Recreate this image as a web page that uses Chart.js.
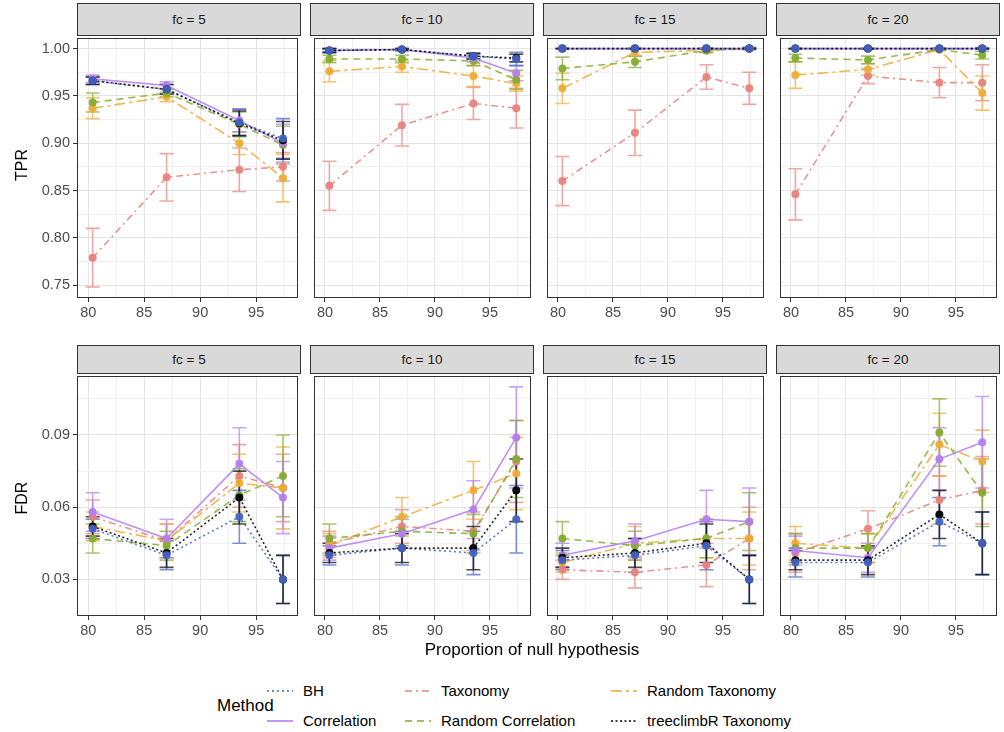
<!DOCTYPE html>
<html lang="en">
<head>
<meta charset="UTF-8" />
<title>TPR / FDR by fc</title>
<script src="https://cdn.jsdelivr.net/npm/chart.js"></script>
<style>
    * { box-sizing: border-box; margin: 0; padding: 0; }
    body {
        width: 1004px; height: 732px;
        background: #fff;
        position: relative;
        overflow: hidden;
        font-family: 'Liberation Sans', Arial, sans-serif;
    }
    .strip {
        position: absolute;
        background: #d9d9d9;
        border: 1px solid #333;
        color: #1a1a1a;
        font-size: 13.5px;
        text-align: center;
    }
    canvas.panel { position: absolute; }
    .ytitle {
        position: absolute;
        width: 60px; height: 20px; line-height: 20px;
        font-size: 16px; text-align: center; color: #000;
        transform: rotate(-90deg);
    }
    #xtitle {
        position: absolute; left: 0; width: 1064px; top: 640px;
        text-align: center; font-size: 17px; color: #000;
    }
    #legend .lab { position: absolute; font-size: 15px; color: #000; line-height: 18px; white-space: nowrap; }
    #legend svg { position: absolute; }
    #legtitle { position: absolute; left: 217px; top: 696px; font-size: 17px; line-height: 20px; }
</style>
</head>
<body>

<div id="fig"></div>
<div class="ytitle" style="left:-8px; top:155px;">TPR</div>
<div class="ytitle" style="left:-8px; top:488px;">FDR</div>
<div id="xtitle">Proportion of null hypothesis</div>
<div id="legend"><div id="legtitle">Method</div></div>

<script>
// x positions (proportion of null hypothesis, %)
const xVals = [80.4, 87.0, 93.5, 97.4];
const fcLevels = [5, 10, 15, 20];
const methods = ['BH', 'Correlation', 'Taxonomy', 'Random Correlation', 'Random Taxonomy', 'treeclimbR Taxonomy'];

// tick labels
const xTicks = [80, 85, 90, 95];
const tprTicks = [0.75, 0.80, 0.85, 0.90, 0.95, 1.00];
const fdrTicks = [0.03, 0.06, 0.09];

// TPR: one row per fc (5, 10, 15, 20), one value per x
const tprBH = [[0.966, 0.957, 0.922, 0.905], [0.998, 0.999, 0.992, 0.989], [1.000, 1.000, 1.000, 1.000], [1.000, 1.000, 1.000, 1.000]];
const tprBHErr = [[0.004, 0.005, 0.014, 0.021], [0.002, 0.001, 0.003, 0.007], [0, 0, 0, 0.001], [0, 0, 0, 0.001]];
const tprCorr = [[0.968, 0.961, 0.924, 0.900], [0.998, 0.999, 0.990, 0.974], [1.000, 1.000, 1.000, 1.000], [1.000, 1.000, 1.000, 1.000]];
const tprCorrErr = [[0.004, 0.004, 0.012, 0.020], [0.002, 0.001, 0.004, 0.008], [0, 0, 0, 0], [0, 0, 0, 0]];
const tprTax = [[0.779, 0.864, 0.872, 0.875], [0.855, 0.919, 0.942, 0.937], [0.860, 0.911, 0.970, 0.958], [0.846, 0.971, 0.964, 0.964]];
const tprTaxErr = [[0.031, 0.025, 0.023, 0.015], [0.026, 0.022, 0.017, 0.021], [0.026, 0.024, 0.013, 0.017], [0.027, 0.008, 0.016, 0.019]];
const tprRCorr = [[0.943, 0.953, 0.920, 0.898], [0.989, 0.989, 0.987, 0.967], [0.979, 0.986, 0.998, 1.000], [0.990, 0.988, 0.999, 0.993]];
const tprRCorrErr = [[0.010, 0.004, 0.013, 0.020], [0.004, 0.004, 0.005, 0.010], [0.012, 0.006, 0.002, 0.001], [0.004, 0.004, 0.001, 0.004]];
const tprRTax = [[0.937, 0.949, 0.900, 0.863], [0.976, 0.981, 0.971, 0.963], [0.958, 0.996, 0.998, 1.000], [0.972, 0.978, 0.999, 0.953]];
const tprRTaxErr = [[0.011, 0.005, 0.012, 0.025], [0.011, 0.006, 0.011, 0.008], [0.016, 0.004, 0.002, 0.001], [0.014, 0.006, 0.001, 0.018]];
const tprTree = [[0.966, 0.957, 0.921, 0.903], [0.998, 0.999, 0.992, 0.990], [1.000, 1.000, 1.000, 1.000], [1.000, 1.000, 1.000, 1.000]];
const tprTreeErr = [[0.004, 0.005, 0.013, 0.020], [0.002, 0.001, 0.003, 0.004], [0, 0, 0, 0], [0, 0, 0, 0]];

// FDR
const fdrBH = [[0.051, 0.040, 0.056, 0.030], [0.040, 0.043, 0.041, 0.055], [0.038, 0.040, 0.044, 0.030], [0.037, 0.037, 0.054, 0.045]];
const fdrBHErr = [[0.004, 0.006, 0.011, 0.010], [0.004, 0.007, 0.009, 0.014], [0.004, 0.007, 0.010, 0.010], [0.006, 0.006, 0.010, 0.013]];
const fdrCorr = [[0.058, 0.047, 0.078, 0.064], [0.043, 0.049, 0.059, 0.089], [0.040, 0.046, 0.055, 0.054], [0.042, 0.039, 0.080, 0.087]];
const fdrCorrErr = [[0.008, 0.008, 0.015, 0.015], [0.005, 0.006, 0.012, 0.021], [0.005, 0.007, 0.012, 0.014], [0.006, 0.006, 0.013, 0.019]];
const fdrTax = [[0.056, 0.046, 0.073, 0.068], [0.045, 0.052, 0.050, 0.079], [0.034, 0.033, 0.036, 0.047], [0.041, 0.051, 0.063, 0.067]];
const fdrTaxErr = [[0.007, 0.007, 0.013, 0.014], [0.005, 0.007, 0.008, 0.017], [0.004, 0.0065, 0.009, 0.013], [0.008, 0.0075, 0.010, 0.014]];
const fdrRCorr = [[0.047, 0.044, 0.065, 0.073], [0.047, 0.050, 0.049, 0.080], [0.047, 0.044, 0.047, 0.054], [0.043, 0.043, 0.091, 0.066]];
const fdrRCorrErr = [[0.006, 0.006, 0.011, 0.017], [0.006, 0.006, 0.008, 0.016], [0.007, 0.006, 0.008, 0.012], [0.006, 0.006, 0.014, 0.014]];
const fdrRTax = [[0.052, 0.046, 0.070, 0.068], [0.044, 0.056, 0.067, 0.074], [0.037, 0.045, 0.047, 0.047], [0.045, 0.043, 0.086, 0.079]];
const fdrRTaxErr = [[0.006, 0.007, 0.012, 0.017], [0.005, 0.008, 0.012, 0.015], [0.004, 0.007, 0.008, 0.011], [0.007, 0.006, 0.013, 0.013]];
const fdrTree = [[0.052, 0.041, 0.064, 0.030], [0.041, 0.043, 0.043, 0.067], [0.039, 0.041, 0.045, 0.030], [0.038, 0.038, 0.057, 0.045]];
const fdrTreeErr = [[0.004, 0.006, 0.011, 0.010], [0.004, 0.006, 0.009, 0.013], [0.004, 0.006, 0.008, 0.010], [0.004, 0.006, 0.010, 0.013]];

// styling per method
const colors = ['#4563c4', '#b47df0', '#e8837c', '#84ad30', '#efab35', '#000000'];
const dashes = [[2, 3], [], [7, 4, 2, 4], [7, 5], [11, 4, 3, 4], [2, 2.5]];
const lineOrder = [12, 13, 16, 14, 15, 11];   // lower = drawn later (on top)
const pointOrder = [1, 3, 6, 4, 5, 2];

const tprSeries = [[tprBH, tprBHErr], [tprCorr, tprCorrErr], [tprTax, tprTaxErr], [tprRCorr, tprRCorrErr], [tprRTax, tprRTaxErr], [tprTree, tprTreeErr]];
const fdrSeries = [[fdrBH, fdrBHErr], [fdrCorr, fdrCorrErr], [fdrTax, fdrTaxErr], [fdrRCorr, fdrRCorrErr], [fdrRTax, fdrRTaxErr], [fdrTree, fdrTreeErr]];

// layout
const colLeft = [77, 310, 543, 776];
const plotW = 224;
const rows = [
    { series: tprSeries, top: 35, h: 263, stripTop: 3, stripH: 32, min: 0.7364, max: 1.0112, major: tprTicks, step: 0.025, first: 0.75, last: 1.0 },
    { series: fdrSeries, top: 373, h: 243, stripTop: 345, stripH: 28, min: 0.0148, max: 0.1145, major: fdrTicks, step: 0.015, first: 0.03, last: 0.105 }
];

function alpha(hex, a) {
    const n = parseInt(hex.slice(1), 16);
    return `rgba(${n >> 16},${(n >> 8) & 255},${n & 255},${a})`;
}

function isMajor(v, list) {
    return list.some(m => Math.abs(m - v) < 1e-9);
}

// minor + major grid values
const xGrid = [];
for (let v = 80; v <= 97.5 + 1e-9; v += 2.5) xGrid.push(v);

// drop the automatic label padding so every panel keeps the same plot box
function noPad(s) {
    s.paddingTop = 0; s.paddingBottom = 0; s.paddingLeft = 0; s.paddingRight = 0;
}

const errorBars = {
    id: 'errorBars',
    beforeDatasetsDraw(chart) {
        const { ctx, chartArea: a, scales: { x, y } } = chart;
        ctx.save();
        ctx.beginPath();
        ctx.rect(a.left, a.top, a.right - a.left, a.bottom - a.top);
        ctx.clip();
        const sets = chart.data.datasets.filter(d => d.errors).sort((p, q) => q.order - p.order);
        sets.forEach(ds => {
            ctx.strokeStyle = ds.errColor;
            ctx.lineWidth = 1.6;
            ds.data.forEach((p, i) => {
                const e = ds.errors[i];
                const px = x.getPixelForValue(p.x);
                const t = y.getPixelForValue(p.y + e);
                const b = y.getPixelForValue(p.y - e);
                ctx.beginPath();
                ctx.moveTo(px, t); ctx.lineTo(px, b);
                ctx.moveTo(px - 7, t); ctx.lineTo(px + 7, t);
                ctx.moveTo(px - 7, b); ctx.lineTo(px + 7, b);
                ctx.stroke();
            });
        });
        ctx.restore();
    }
};

const frame = {
    id: 'frame',
    afterDraw(chart) {
        const { ctx, chartArea: a } = chart;
        ctx.save();
        ctx.strokeStyle = '#333';
        ctx.lineWidth = 1;
        ctx.strokeRect(a.left + 0.5, a.top + 0.5, a.right - a.left - 1, a.bottom - a.top - 1);
        ctx.restore();
    }
};

const fig = document.getElementById('fig');

rows.forEach((row, r) => {
    const yGrid = [];
    for (let v = row.first; v <= row.last + 1e-9; v += row.step) yGrid.push(+v.toFixed(4));

    fcLevels.forEach((fc, c) => {
        const strip = document.createElement('div');
        strip.className = 'strip';
        strip.style.left = colLeft[c] + 'px';
        strip.style.top = row.stripTop + 'px';
        strip.style.width = plotW + 'px';
        strip.style.height = (row.stripH + 1) + 'px';
        strip.style.lineHeight = (row.stripH - 1) + 'px';
        strip.textContent = 'fc = ' + fc;
        fig.appendChild(strip);

        const yw = c === 0 ? colLeft[0] : 0;
        const cv = document.createElement('canvas');
        cv.className = 'panel';
        cv.width = yw + plotW + 1;
        cv.height = 1 + row.h + 26;
        cv.style.left = (colLeft[c] - yw) + 'px';
        cv.style.top = (row.top - 1) + 'px';
        fig.appendChild(cv);

        const datasets = [];
        methods.forEach((m, k) => {
            const [vals, errs] = row.series[k];
            const pts = xVals.map((x, i) => ({ x: x, y: vals[c][i] }));
            // lines and error bars
            datasets.push({
                label: m,
                data: pts,
                errors: errs[c],
                errColor: alpha(colors[k], 0.7),
                borderColor: alpha(colors[k], 0.85),
                borderWidth: 1.6,
                borderDash: dashes[k],
                pointRadius: 0,
                tension: 0,
                order: lineOrder[k]
            });
            // points on top of every line
            datasets.push({
                label: m + ' points',
                data: pts,
                showLine: false,
                pointRadius: 4,
                pointBorderWidth: 0,
                pointBackgroundColor: alpha(colors[k], 0.95),
                order: pointOrder[k]
            });
        });

        new Chart(cv, {
            type: 'line',
            data: { datasets: datasets },
            options: {
                responsive: false,
                animation: false,
                devicePixelRatio: 1,
                layout: { padding: { top: 1, right: 1, left: 0, bottom: 0 } },
                plugins: { legend: { display: false }, tooltip: { enabled: false } },
                scales: {
                    x: {
                        type: 'linear',
                        min: 79.0,
                        max: 98.74,
                        afterBuildTicks: s => { s.ticks = xGrid.map(v => ({ value: v })); },
                        afterFit: s => { s.height = 26; noPad(s); },
                        border: { display: false },
                        grid: {
                            color: ctx => isMajor(ctx.tick.value, xTicks) ? '#e4e4e4' : '#f1f1f1',
                            lineWidth: 1,
                            tickLength: 4,
                            tickColor: ctx => isMajor(ctx.tick.value, xTicks) ? '#333' : 'rgba(0,0,0,0)'
                        },
                        ticks: {
                            autoSkip: false,
                            maxRotation: 0,
                            padding: 2,
                            color: '#4d4d4d',
                            font: { family: 'Liberation Sans', size: 14.5 },
                            callback: v => isMajor(v, xTicks) ? String(v) : ''
                        }
                    },
                    y: {
                        type: 'linear',
                        min: row.min,
                        max: row.max,
                        afterBuildTicks: s => { s.ticks = yGrid.map(v => ({ value: v })); },
                        afterFit: s => { s.width = yw; noPad(s); },
                        border: { display: false },
                        grid: {
                            color: ctx => isMajor(ctx.tick.value, row.major) ? '#e4e4e4' : '#f1f1f1',
                            lineWidth: 1,
                            drawTicks: c === 0,
                            tickLength: 4,
                            tickColor: ctx => isMajor(ctx.tick.value, row.major) ? '#333' : 'rgba(0,0,0,0)'
                        },
                        ticks: {
                            display: c === 0,
                            autoSkip: false,
                            padding: 3,
                            color: '#4d4d4d',
                            font: { family: 'Liberation Sans', size: 14.5 },
                            callback: v => isMajor(v, row.major) ? v.toFixed(2) : ''
                        }
                    }
                }
            },
            plugins: [errorBars, frame]
        });
    });
});

// legend: three columns, two rows
const legText = [303, 441, 647];
const legRows = [691, 721];
const legend = document.getElementById('legend');
methods.forEach((m, k) => {
    const col = Math.floor(k / 2), rw = k % 2;
    const svg = document.createElementNS('http://www.w3.org/2000/svg', 'svg');
    svg.setAttribute('width', 26);
    svg.setAttribute('height', 4);
    svg.style.left = (legText[col] - 36) + 'px';
    svg.style.top = (legRows[rw] - 2) + 'px';
    const ln = document.createElementNS('http://www.w3.org/2000/svg', 'line');
    ln.setAttribute('x1', 0); ln.setAttribute('x2', 26);
    ln.setAttribute('y1', 2); ln.setAttribute('y2', 2);
    ln.setAttribute('stroke', colors[k]);
    ln.setAttribute('stroke-width', 1.6);
    if (dashes[k].length) ln.setAttribute('stroke-dasharray', dashes[k].join(' '));
    svg.appendChild(ln);
    legend.appendChild(svg);

    const lab = document.createElement('div');
    lab.className = 'lab';
    lab.style.left = legText[col] + 'px';
    lab.style.top = (legRows[rw] - 9) + 'px';
    lab.textContent = m;
    legend.appendChild(lab);
});
</script>
</body>
</html>
